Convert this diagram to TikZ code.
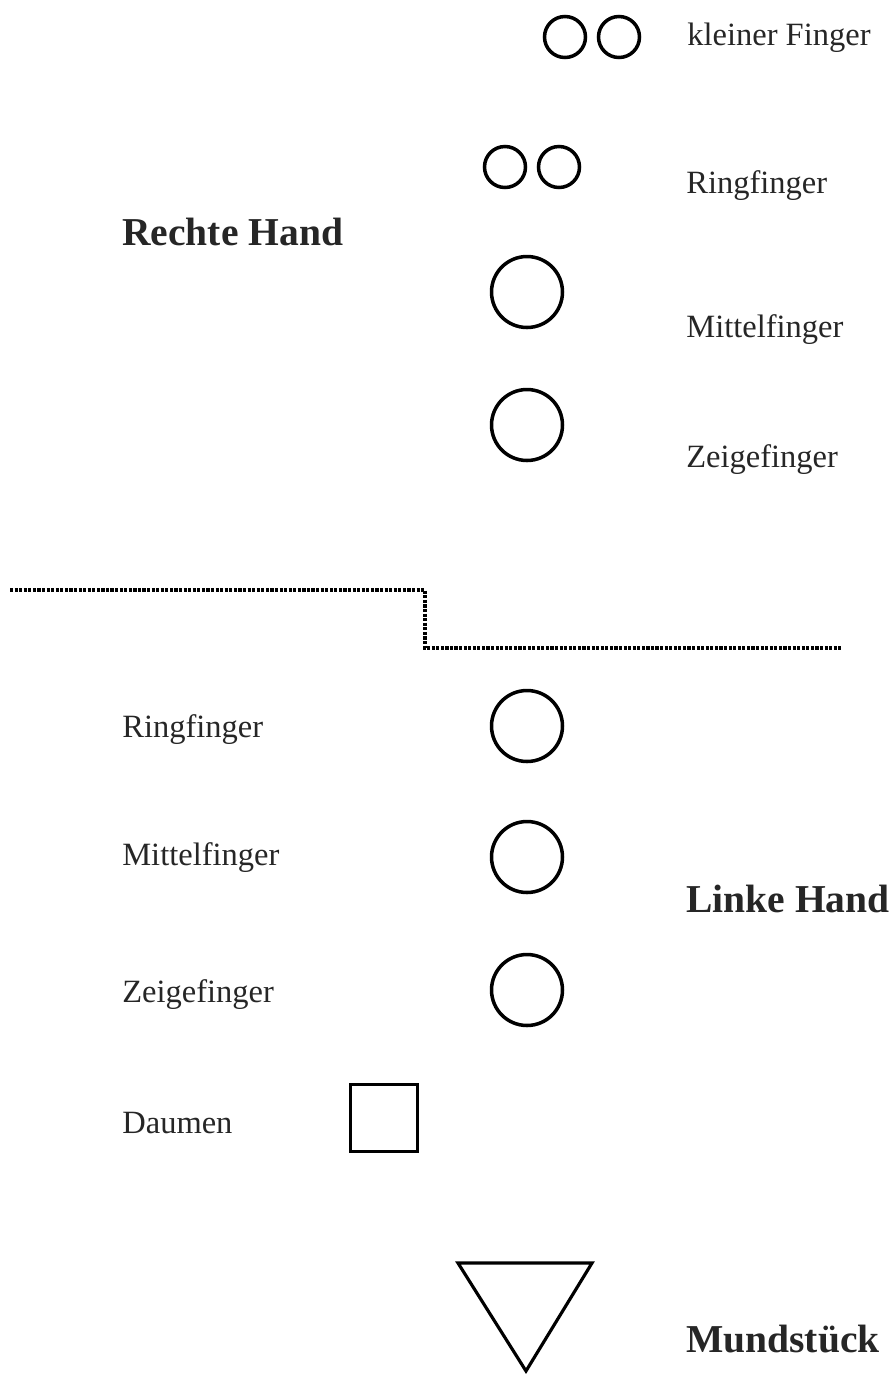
\documentclass[tikz,border=0pt]{standalone}
\usepackage{fontspec}
\setmainfont{Liberation Serif}
\usetikzlibrary{positioning}
\tikzset{
  loch/.style={draw, circle, line width=2pt, inner sep=0pt, minimum size=1.42cm},
  kleinloch/.style={draw, circle, line width=2pt, inner sep=0pt, minimum size=0.82cm},
  finger/.style={anchor=base west, inner sep=0pt, text=black!85, font=\fontsize{18.5}{22}\selectfont},
  hand/.style={anchor=base west, inner sep=0pt, text=black!85, font=\bfseries\fontsize{22.5}{26}\selectfont},
}
\begin{document}
\begin{tikzpicture}[x=0.02cm, y=-0.02cm]
  \useasboundingbox (0,0) rectangle (894,1374);
  % rechte Hand
  \node[kleinloch] (kf1) at (565,37) {};
  \node[kleinloch] (kf2) at (619,37) {};
  \node[finger] (kftext) at (687,45) {kleiner Finger};
  \node[kleinloch] (rf1) at (505,167) {};
  \node[kleinloch] (rf2) at (559,167) {};
  \node[finger] (rftext) at (686,193) {Ringfinger};
  \node[hand] (rechts) at (122,245) {Rechte Hand};
  \node[loch] (mf) at (527,292) {};
  \node[finger] (mftext) at (686,337) {Mittelfinger};
  \node[loch] (zf) at (527,425) {};
  \node[finger] (zftext) at (686,467) {Zeigefinger};
  % Trennlinie
  \draw[line width=2.2pt, dash pattern=on 1.8pt off 0.8pt] (10,590) -- (425,590) -- (425,648) -- (842,648);
  % linke Hand
  \node[loch] (lrf) at (527,726) {};
  \node[finger] (lrftext) at (122,737) {Ringfinger};
  \node[loch] (lmf) at (527,857) {};
  \node[finger] (lmftext) at (122,865) {Mittelfinger};
  \node[loch] (lzf) at (527,990) {};
  \node[finger] (lzftext) at (122,1002) {Zeigefinger};
  \node[draw, line width=2pt, inner sep=0pt, minimum size=1.34cm] (daumen) at (384,1118) {};
  \node[finger] (dtext) at (122,1133) {Daumen};
  \node[hand] (links) at (686,912) {Linke Hand};
  % Mundstueck
  \draw[line width=1.8pt, line join=miter] (458,1263) -- (592,1263) -- (526,1371) -- cycle;
  \node[hand] (mund) at (686,1352) {Mundstück};
\end{tikzpicture}
\end{document}
